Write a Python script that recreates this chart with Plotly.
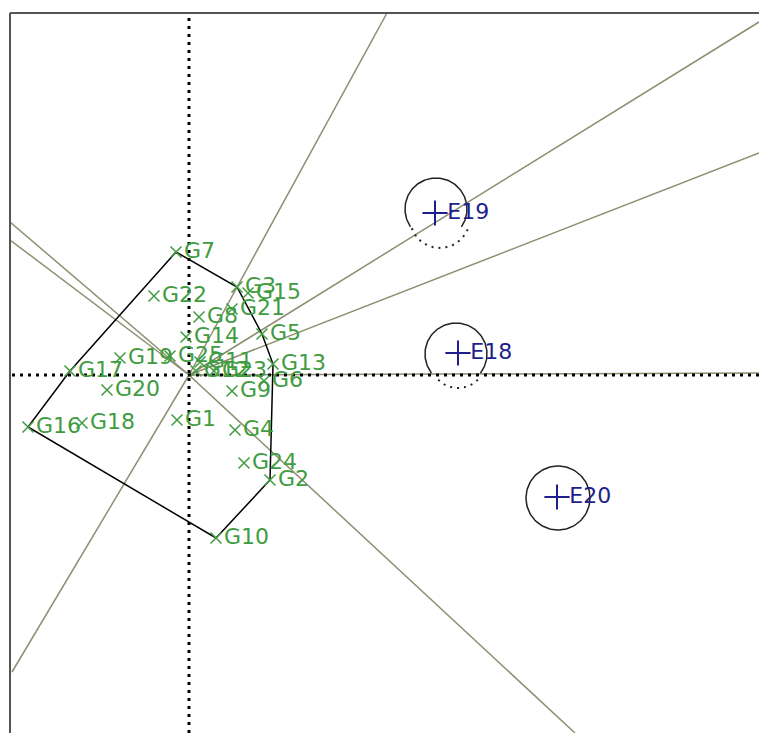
import numpy as np
import plotly.graph_objects as go

# ---- data (biplot coordinates) ----
genotypes = ["G1","G2","G3","G4","G5","G6","G7","G8","G9","G10","G11","G12","G13",
             "G14","G15","G16","G17","G18","G19","G20","G21","G22","G23","G24","G25"]
gen_x = [-0.12, 0.81, 0.48, 0.46, 0.73, 0.75, -0.13, 0.10, 0.43, 0.27, 0.11, 0.07, 0.84,
         -0.03, 0.59, -1.61, -1.19, -1.07, -0.69, -0.82, 0.43, -0.35, 0.25, 0.55, -0.19]
gen_y = [-0.45, -1.05, 0.88, -0.55, 0.41, -0.06, 1.23, 0.58, -0.16, -1.63, 0.13, 0.04, 0.11,
         0.38, 0.82, -0.52, 0.04, -0.48, 0.17, -0.15, 0.66, 0.79, 0.04, -0.88, 0.19]

environments = ["E18", "E19", "E20"]
env_x = [2.69, 2.46, 3.68]
env_y = [0.22, 1.62, -1.22]

hull_order = ["G7", "G3", "G5", "G13", "G2", "G10", "G16", "G17", "G7"]

# sector-divider rays (end points)
ray_x = [1.98, 5.70, 5.70, 5.70, 3.86, -1.79, -1.79, -1.77]
ray_y = [3.62, 3.53, 2.22, 0.02, -3.58, 1.53, 1.35, -2.97]

# circles: centre x, centre y, radius, solid arc start/end (deg)
circ_cx = [2.47, 2.67, 3.69]
circ_cy = [1.66, 0.21, -1.23]
circ_r = [0.31, 0.31, 0.32]
circ_a0 = [-35, -38, 0]
circ_a1 = [215, 218, 360]
# dotted arcs: centre x, centre y, radius, start/end (deg)
dot_cx = [2.51, 2.69]
dot_cy = [1.57, 0.15]
dot_r = [0.30, 0.28]
dot_a0 = [200, 225]
dot_a1 = [340, 315]

XR = [-1.79, 5.70]
YR = [-3.58, 3.62]

GREEN = "#3f9c3f"
NAVY = "#1e1e8c"
OLIVE = "#8e8e72"

fig = go.Figure()

# rays
for ex, ey in zip(ray_x, ray_y):
    fig.add_trace(go.Scatter(x=[0, ex], y=[0, ey], mode="lines",
                             line=dict(color=OLIVE, width=1.5), hoverinfo="skip"))

# dotted axes
fig.add_trace(go.Scatter(x=[XR[0] + 0.02, XR[1]], y=[0, 0], mode="lines",
                         line=dict(color="black", width=3, dash="3px,5px"), hoverinfo="skip"))
fig.add_trace(go.Scatter(x=[0, 0], y=[YR[0], YR[1]], mode="lines",
                         line=dict(color="black", width=3, dash="3px,5px"), hoverinfo="skip"))

# convex hull
idx = {g: i for i, g in enumerate(genotypes)}
fig.add_trace(go.Scatter(x=[gen_x[idx[g]] for g in hull_order],
                         y=[gen_y[idx[g]] for g in hull_order], mode="lines",
                         line=dict(color="black", width=1.5), hoverinfo="skip"))

# circles
for cx, cy, r, a0, a1 in zip(circ_cx, circ_cy, circ_r, circ_a0, circ_a1):
    t = np.radians(np.linspace(a0, a1, 120))
    fig.add_trace(go.Scatter(x=cx + r * np.cos(t), y=cy + r * np.sin(t), mode="lines",
                             line=dict(color="#222222", width=1.5), hoverinfo="skip"))
for cx, cy, r, a0, a1 in zip(dot_cx, dot_cy, dot_r, dot_a0, dot_a1):
    t = np.radians(np.linspace(a0, a1, 60))
    fig.add_trace(go.Scatter(x=cx + r * np.cos(t), y=cy + r * np.sin(t), mode="lines",
                             line=dict(color="#222222", width=2, dash="2px,5px"), hoverinfo="skip"))

# genotypes
fig.add_trace(go.Scatter(x=gen_x, y=gen_y, mode="markers+text", text=genotypes,
                         textposition="middle right",
                         textfont=dict(family="DejaVu Sans", size=22, color=GREEN),
                         marker=dict(symbol="x-thin", size=11, line=dict(color=GREEN, width=1.5)),
                         hoverinfo="skip"))

# environments
fig.add_trace(go.Scatter(x=env_x, y=env_y, mode="markers+text", text=environments,
                         textposition="middle right",
                         textfont=dict(family="DejaVu Sans", size=22, color=NAVY),
                         marker=dict(symbol="cross-thin", size=18, line=dict(color=NAVY, width=2)),
                         hoverinfo="skip"))

fig.update_layout(
    width=759, height=733,
    margin=dict(l=10, r=0, t=13, b=0),
    paper_bgcolor="white", plot_bgcolor="white",
    showlegend=False,
    xaxis=dict(range=XR, visible=False, fixedrange=True),
    yaxis=dict(range=YR, visible=False, fixedrange=True),
    shapes=[
        dict(type="line", xref="paper", yref="paper", x0=0, x1=1, y0=1, y1=1,
             line=dict(color="#555555", width=2)),
        dict(type="line", xref="paper", yref="paper", x0=0, x1=0, y0=0, y1=1,
             line=dict(color="#555555", width=2)),
    ],
)

fig.write_html("out.html")
